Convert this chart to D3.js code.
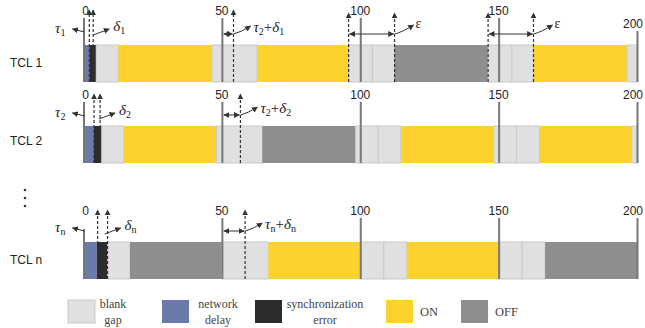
<!DOCTYPE html>
<html><head><meta charset="utf-8">
<script src="https://cdn.jsdelivr.net/npm/d3@7"></script>
<style>body{margin:0;background:#fff}svg{display:block}</style>
</head><body>
<svg id="c" width="645" height="328"></svg>
<script>
// ---- data ----
const rowNames = ["TCL 1", "TCL 2", "TCL n"];
const tickValues = [0, 50, 100, 150, 200];
const tcl1Segments = [[0,2.1,"delay"],[2.1,4.6,"sync"],[4.6,12.6,"gap"],[12.6,46.4,"on"],[46.4,62.7,"gap"],[62.7,95.8,"on"],[95.8,104.4,"gap"],[104.4,112.4,"gap"],[112.4,146.2,"off"],[146.2,154.8,"gap"],[154.8,162.6,"gap"],[162.6,196.4,"on"],[196.4,200,"gap"]];
const tcl2Segments = [[0,3.8,"delay"],[3.8,6.6,"sync"],[6.6,14.6,"gap"],[14.6,48.1,"on"],[48.1,64.6,"gap"],[64.6,98.3,"off"],[98.3,106.5,"gap"],[106.5,114.7,"gap"],[114.7,148.3,"on"],[148.3,156.5,"gap"],[156.5,164.7,"gap"],[164.7,198.1,"on"],[198.1,200,"gap"]];
const tclnSegments = [[0,4.8,"delay"],[4.8,8.7,"sync"],[8.7,16.8,"gap"],[16.8,50,"off"],[50,66.8,"gap"],[66.8,100,"on"],[100,108.5,"gap"],[108.5,116.8,"gap"],[116.8,150,"on"],[150,158.5,"gap"],[158.5,166.8,"gap"],[166.8,200,"off"]];
const syncMarkers = [[2.1,3.5],[3.8,6.0],[5.1,8.7]];
const periodMarkers = [54.2, 56.7, 58.4];
const epsilonSpans = [[95.8,112.4],[146.2,162.6]];
const tauSubs = ["1","2","n"];
const deltaSubs = ["1","2","n"];
const sumSubs = [["2","1"],["2","2"],["n","n"]];
const legendTypes = ["gap","delay","sync","on","off"];
const legendLabels = [["blank","gap"],["network","delay"],["synchronization","error"],["ON"],["OFF"]];

// ---- layout / style ----
const colors = {gap:"#e0e0e0", delay:"#6a7aaa", sync:"#2c2c2c", on:"#fdd22f", off:"#8e8e8e"};
const svg = d3.select("#c");
const x = d3.scaleLinear().domain([0,200]).range([83.5, 637]);
const barTops = [45, 126, 242], barH = 37;
const tickLabelY = [12, 96, 212];
const tauArrowY = [32, 116, 231];
const allSegments = [tcl1Segments, tcl2Segments, tclnSegments];
const ink = "#333";

const defs = svg.append("defs");
defs.append("marker").attr("id","ah").attr("viewBox","0 0 10 10").attr("refX",9).attr("refY",5)
  .attr("markerWidth",6).attr("markerHeight",6).attr("orient","auto-start-reverse").attr("markerUnits","userSpaceOnUse")
  .append("path").attr("d","M0,0 L10,5 L0,10 z").attr("fill", ink);

const serif = "'Liberation Serif','Times New Roman',serif";
const sans = "'Liberation Sans',Arial,sans-serif";

function greek(g, xPos, yPos, parts) {
  const t = g.append("text").attr("x", xPos).attr("y", yPos)
    .attr("font-family", serif).attr("font-size", 15).attr("fill", "#222");
  parts.forEach(p => {
    if (p.sub) t.append("tspan").attr("font-size", 10).attr("dy", 3).attr("font-style","normal").text(p.t);
    else t.append("tspan").attr("dy", p.after ? -3 : 0).attr("font-style", p.it ? "italic":"normal").text(p.t);
  });
}

allSegments.forEach((segs, r) => {
  const g = svg.append("g");
  const top = barTops[r], bot = top + barH;
  // row label
  g.append("text").attr("x", 10).attr("y", top + barH/2 + (r===1? -3:0)).attr("dominant-baseline","middle")
    .attr("font-family", sans).attr("font-size", 12).attr("fill","#222").text(rowNames[r]);
  // segments
  g.selectAll("rect").data(segs).join("rect")
    .attr("x", d => x(d[0])).attr("y", top)
    .attr("width", d => x(d[1]) - x(d[0])).attr("height", barH)
    .attr("fill", d => colors[d[2]])
    .attr("stroke", d => d[2]==="gap" ? "#c9c9c9" : "none").attr("stroke-width", 1);
  // ticks
  tickValues.forEach(v => {
    const ly = tickLabelY[r] + (r===0 && v===200 ? 13 : 0);
    g.append("line").attr("x1", x(v)+0.5).attr("x2", x(v)+0.5)
      .attr("y1", v===0 && r===2 ? top-13 : ly+6).attr("y2", bot)
      .attr("stroke","#777").attr("stroke-width", 2);
    g.append("text").attr("x", x(v) + (v===0?2:(v===200?-4:0))).attr("y", ly).attr("dominant-baseline","middle")
      .attr("text-anchor","middle").attr("font-family", sans).attr("font-size", 12).attr("fill","#222").text(v);
  });
  // sync markers near 0
  syncMarkers[r].forEach(m => {
    g.append("line").attr("x1", x(m)).attr("x2", x(m)).attr("y1", bot).attr("y2", tickLabelY[r]-2)
      .attr("stroke", ink).attr("stroke-width", 1.2).attr("stroke-dasharray","3,2").attr("marker-end","url(#ah)");
  });
  // tau arrow
  const ay = tauArrowY[r];
  g.append("line").attr("x1", x(0)+1).attr("y1", ay).attr("x2", x(0)-11).attr("y2", ay-3)
    .attr("stroke", ink).attr("stroke-width",1).attr("marker-end","url(#ah)");
  greek(g, 55, ay + 1, [{t:"τ",it:true},{t:tauSubs[r],sub:true}]);
  // delta arrow
  const dx0 = (x(syncMarkers[r][0]) + x(syncMarkers[r][1])) / 2 + 2;
  g.append("path").attr("d", `M${dx0},${ay+3} Q${dx0+8},${ay} ${dx0+16},${ay-3}`)
    .attr("fill","none").attr("stroke", ink).attr("stroke-width",1).attr("marker-end","url(#ah)");
  greek(g, dx0 + 20, ay - 1, [{t:"δ",it:true},{t:deltaSubs[r],sub:true}]);
  // period marker near 50
  const pm = periodMarkers[r];
  g.append("line").attr("x1", x(pm)).attr("x2", x(pm)).attr("y1", bot).attr("y2", tickLabelY[r]-2)
    .attr("stroke", ink).attr("stroke-width", 1.2).attr("stroke-dasharray","3,2").attr("marker-end","url(#ah)");
  const py = top - 11;
  g.append("line").attr("x1", x(50)+2).attr("x2", x(pm)-1).attr("y1", py).attr("y2", py)
    .attr("stroke", ink).attr("stroke-width",1).attr("marker-start","url(#ah)").attr("marker-end","url(#ah)");
  g.append("path").attr("d", `M${x(pm)},${py} Q${x(pm)+8},${py-2} ${x(pm)+17},${py-8}`)
    .attr("fill","none").attr("stroke", ink).attr("stroke-width",1).attr("marker-end","url(#ah)");
  greek(g, x(pm)+20, py - 2, [{t:"τ",it:true},{t:sumSubs[r][0],sub:true},{t:"+",after:true},{t:"δ",it:true},{t:sumSubs[r][1],sub:true}]);
  // epsilon spans (TCL 1 only)
  if (r === 0) {
    epsilonSpans.forEach(s => {
      s.forEach(v => g.append("line").attr("x1", x(v)).attr("x2", x(v)).attr("y1", bot).attr("y2", 13)
        .attr("stroke", ink).attr("stroke-width", 1.2).attr("stroke-dasharray","3,2").attr("marker-end","url(#ah)"));
      g.append("line").attr("x1", x(s[0])+1).attr("x2", x(s[1])-1).attr("y1", 34).attr("y2", 34)
        .attr("stroke", ink).attr("stroke-width",1).attr("marker-start","url(#ah)").attr("marker-end","url(#ah)");
      g.append("path").attr("d", `M${x(s[1])},34 Q${x(s[1])+8},32 ${x(s[1])+19},25`)
        .attr("fill","none").attr("stroke", ink).attr("stroke-width",1).attr("marker-end","url(#ah)");
      g.append("text").attr("x", x(s[1])+21).attr("y", 28).attr("font-family", serif).attr("font-size", 14)
        .attr("fill","#222").text("ε");
    });
  }
});

// vertical ellipsis
svg.selectAll("circle.dot").data([190, 198, 206]).join("circle")
  .attr("cx", 25).attr("cy", d => d).attr("r", 1.3).attr("fill", "#333");

// legend
const legX = [68, 162, 255, 386, 461];
const lg = svg.append("g");
legendTypes.forEach((t, i) => {
  lg.append("rect").attr("x", legX[i]).attr("y", 300).attr("width", 27).attr("height", 23)
    .attr("fill", colors[t]).attr("stroke", t==="gap" ? "#c9c9c9" : "none");
  const lines = legendLabels[i];
  if (lines.length === 2) {
    lines.forEach((s, j) => lg.append("text").attr("x", legX[i] + 45 + (lines[0].length>10 ? 25 : (i===1?11:0)))
      .attr("y", 305 + j*16).attr("dominant-baseline","middle").attr("text-anchor","middle")
      .attr("font-family", serif).attr("font-size", 12).attr("fill","#444").text(s));
  } else {
    lg.append("text").attr("x", legX[i] + 34).attr("y", 313).attr("dominant-baseline","middle")
      .attr("font-family", serif).attr("font-size", 12.5).attr("fill","#444").text(lines[0]);
  }
});
</script>
</body></html>
